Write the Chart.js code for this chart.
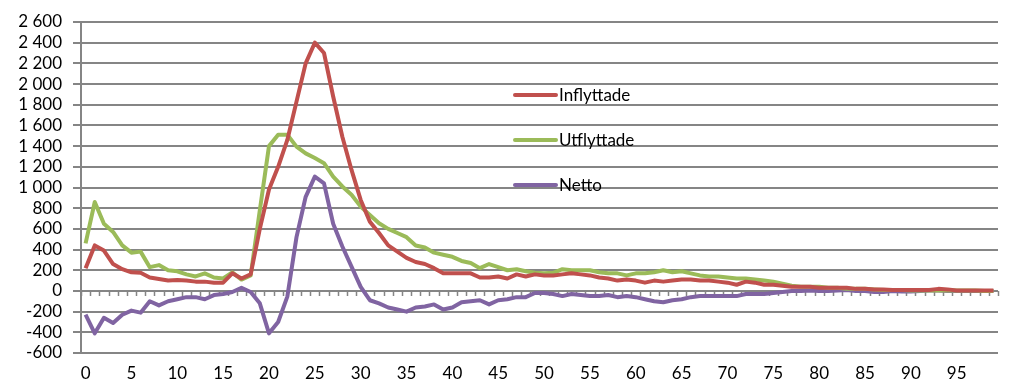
<!DOCTYPE html>
<html>
<head>
<meta charset="utf-8">
<script src="https://cdn.jsdelivr.net/npm/chart.js@4/dist/chart.umd.min.js"></script>
<style>
  body { margin: 0; background: #fff; }
  canvas { display: block; }
</style>
</head>
<body>
<canvas id="flyttChart" width="1024" height="388"></canvas>
<script>
// Ålder (0-99)
const ages = [
  0, 1, 2, 3, 4, 5, 6, 7, 8, 9,
  10, 11, 12, 13, 14, 15, 16, 17, 18, 19,
  20, 21, 22, 23, 24, 25, 26, 27, 28, 29,
  30, 31, 32, 33, 34, 35, 36, 37, 38, 39,
  40, 41, 42, 43, 44, 45, 46, 47, 48, 49,
  50, 51, 52, 53, 54, 55, 56, 57, 58, 59,
  60, 61, 62, 63, 64, 65, 66, 67, 68, 69,
  70, 71, 72, 73, 74, 75, 76, 77, 78, 79,
  80, 81, 82, 83, 84, 85, 86, 87, 88, 89,
  90, 91, 92, 93, 94, 95, 96, 97, 98, 99
];

const inflyttade = [
  220, 440, 390, 260, 210, 180, 175, 130, 115, 100,
  105, 100, 90, 90, 80, 80, 170, 120, 160, 600,
  980, 1200, 1460, 1830, 2200, 2400, 2300, 1880, 1490, 1170,
  880, 670, 560, 440, 380, 320, 280, 260, 220, 170,
  170, 170, 170, 130, 130, 140, 120, 160, 140, 160,
  150, 150, 160, 170, 160, 150, 130, 120, 100, 110,
  100, 80, 100, 90, 100, 110, 110, 100, 100, 90,
  80, 60, 90, 80, 60, 60, 50, 40, 40, 40,
  30, 30, 30, 30, 20, 20, 15, 15, 10, 10,
  10, 10, 10, 20, 15, 5, 5, 5, 5, 5
];

const utflyttade = [
  460, 860, 650, 570, 440, 370, 380, 230, 250, 200,
  190, 160, 140, 170, 130, 120, 180, 110, 150, 780,
  1400, 1510, 1510, 1395, 1330, 1285, 1235, 1105, 1010, 930,
  815, 735, 655, 600, 560, 520, 440, 420, 370, 350,
  330, 290, 270, 220, 260, 230, 200, 210, 190, 175,
  170, 175, 210, 200, 200, 200, 180, 170, 170, 150,
  170, 170, 180, 200, 180, 190, 170, 150, 140, 140,
  130, 120, 120, 110, 100, 90, 70, 50, 40, 40,
  40, 30, 30, 20, 20, 20, 15, 10, 10, 10,
  5, 5, 5, 5, 5, 5, 5, 5, 0, 0
];

const netto = [
  -230, -410, -260, -310, -230, -190, -210, -100, -140, -100,
  -80, -60, -60, -80, -40, -30, -10, 30, -10, -120,
  -410, -300, -55, 520, 910, 1105, 1040, 650, 430, 235,
  40, -90, -120, -160, -180, -200, -160, -150, -130, -180,
  -160, -110, -100, -90, -130, -90, -80, -60, -60, -20,
  -20, -30, -50, -30, -40, -50, -50, -40, -60, -50,
  -60, -80, -100, -110, -90, -80, -60, -50, -50, -50,
  -50, -50, -30, -30, -30, -20, -10, 0, 0, 5,
  0, 0, 5, 10, 0, 0, -10, -10, 0, -5,
  -5, 0, 5, 5, 0, 0, 0, 0, 0, 0
];

// Y-axelns intervall
const yMin = -600;
const yMax = 2600;
const yStep = 200;

const fontFamily = 'Lato, "Open Sans", sans-serif';
const gridColor = '#858585';

// Formatera tal med mellanslag som tusentalsavgränsare
function formatNumber(v) {
    const s = String(Math.abs(v)).replace(/\B(?=(\d{3})+(?!\d))/g, ' ');
    return (v < 0 ? '-' : '') + s;
}

// Små streck på nollinjen (kategorigränser)
const zeroTicksPlugin = {
    id: 'zeroTicks',
    beforeDatasetsDraw(chart) {
        const x = chart.scales.x;
        const y = chart.scales.y;
        const ctx = chart.ctx;
        const y0 = y.getPixelForValue(0);
        const step = x.getPixelForValue(1) - x.getPixelForValue(0);
        ctx.save();
        ctx.strokeStyle = gridColor;
        ctx.lineWidth = 1.5;
        ctx.beginPath();
        for (let i = 0; i <= ages.length; i++) {
            const px = Math.round(x.getPixelForValue(0) - step / 2 + i * step) + 0.5;
            ctx.moveTo(px, y0);
            ctx.lineTo(px, y0 + 5);
        }
        ctx.stroke();
        ctx.restore();
    }
};

// Förklaring inne i diagramytan
const innerLegendPlugin = {
    id: 'innerLegend',
    afterDatasetsDraw(chart) {
        const ctx = chart.ctx;
        const rows = [95, 140, 185];
        ctx.save();
        chart.data.datasets.forEach((ds, i) => {
            const yy = rows[i];
            ctx.strokeStyle = ds.borderColor;
            ctx.lineWidth = 4;
            ctx.lineCap = 'round';
            ctx.beginPath();
            ctx.moveTo(515, yy);
            ctx.lineTo(556, yy);
            ctx.stroke();
            ctx.fillStyle = '#000';
            ctx.font = '17px ' + fontFamily;
            ctx.textBaseline = 'middle';
            ctx.fillText(ds.label, 559, yy + 1);
        });
        ctx.restore();
    }
};

const lineStyle = {
    borderWidth: 4,
    pointRadius: 0,
    tension: 0,
    fill: false,
    borderJoinStyle: 'round'
};

new Chart(document.getElementById('flyttChart').getContext('2d'), {
    type: 'line',
    data: {
        labels: ages,
        datasets: [
            { label: 'Inflyttade', data: inflyttade, borderColor: '#C0504D', ...lineStyle },
            { label: 'Utflyttade', data: utflyttade, borderColor: '#9BBB59', ...lineStyle },
            { label: 'Netto', data: netto, borderColor: '#8064A2', ...lineStyle }
        ]
    },
    options: {
        responsive: false,
        animation: false,
        devicePixelRatio: 1,
        layout: { padding: { top: 22, right: 26, left: 0, bottom: 0 } },
        plugins: {
            legend: { display: false },
            tooltip: { enabled: false }
        },
        scales: {
            x: {
                type: 'category',
                offset: true,
                grid: { display: false },
                border: { display: false },
                ticks: {
                    autoSkip: false,
                    maxRotation: 0,
                    padding: 2,
                    color: '#000',
                    font: { family: fontFamily, size: 17 },
                    callback: function(value, index) {
                        return index % 5 === 0 ? ages[index] : '';
                    }
                },
                afterFit(scale) { scale.height = 35; }
            },
            y: {
                type: 'linear',
                min: yMin,
                max: yMax,
                grid: {
                    display: true,
                    drawOnChartArea: true,
                    color: gridColor,
                    lineWidth: 2,
                    tickLength: 8
                },
                border: { display: true, color: gridColor, width: 2 },
                ticks: {
                    stepSize: yStep,
                    autoSkip: false,
                    padding: 11,
                    color: '#000',
                    font: { family: fontFamily, size: 17 },
                    callback: v => formatNumber(v)
                },
                afterFit(scale) { scale.width = 81; }
            }
        }
    },
    plugins: [zeroTicksPlugin, innerLegendPlugin]
});
</script>
</body>
</html>
